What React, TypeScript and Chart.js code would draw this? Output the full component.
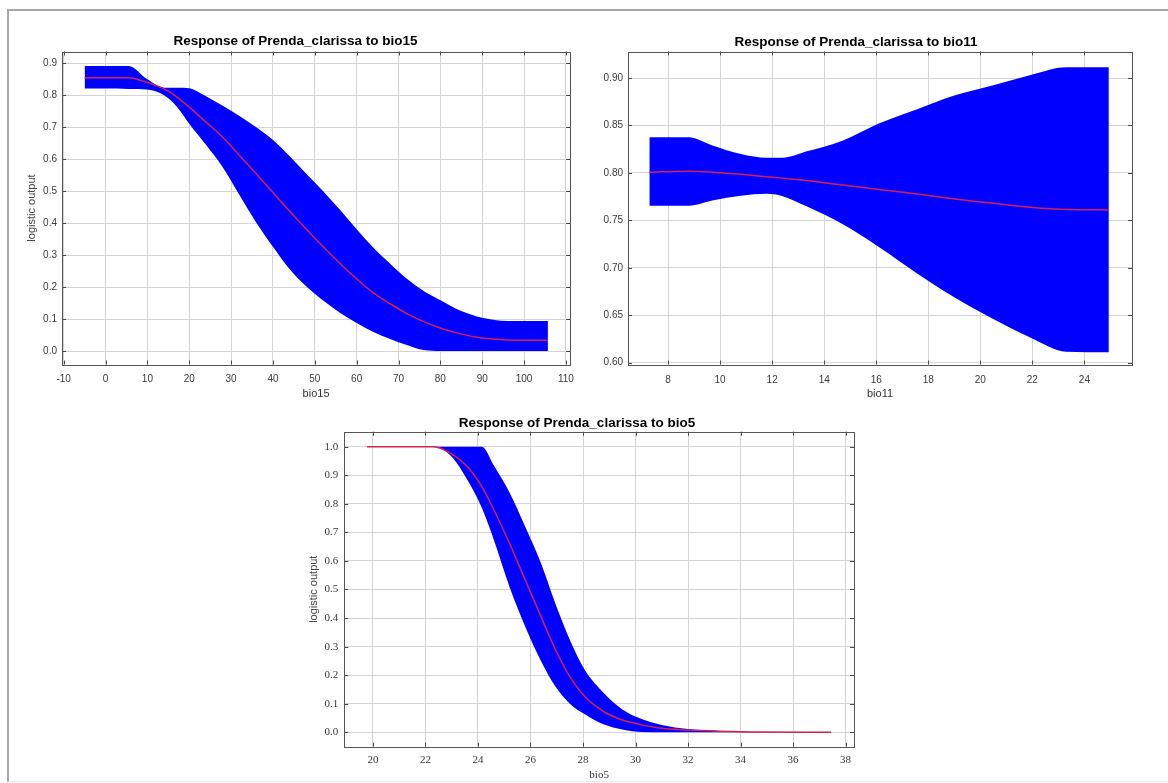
import React, { useEffect, useRef } from "react";
import { Chart, registerables } from "chart.js";

Chart.register(...registerables);

// ---------- Data: response of Prenda_clarissa to bio15 ----------
const BIO15_X = [-5, 0, 5.5, 10, 14, 17, 20, 24, 28, 32, 36, 40, 44, 48, 52, 56, 60, 64, 68, 72, 76, 80, 85, 90, 96, 100, 105.7];
const BIO15_UPPER = [0.892, 0.892, 0.892, 0.85, 0.824, 0.824, 0.822, 0.797, 0.767, 0.735, 0.7, 0.66, 0.609, 0.554, 0.5, 0.442, 0.381, 0.323, 0.273, 0.226, 0.188, 0.159, 0.125, 0.104, 0.094, 0.094, 0.094];
const BIO15_LOWER = [0.821, 0.821, 0.82, 0.818, 0.8, 0.765, 0.711, 0.645, 0.575, 0.488, 0.402, 0.326, 0.256, 0.202, 0.158, 0.12, 0.088, 0.06, 0.038, 0.019, 0.003, 0.0, 0.0, 0.0, 0.0, 0.0, 0.0];
const BIO15_MEAN = [0.855, 0.855, 0.855, 0.84, 0.82, 0.795, 0.763, 0.716, 0.669, 0.612, 0.555, 0.496, 0.437, 0.381, 0.326, 0.274, 0.226, 0.182, 0.148, 0.117, 0.092, 0.072, 0.053, 0.041, 0.035, 0.034, 0.034];
const BIO15_XTICKS = [-10, 0, 10, 20, 30, 40, 50, 60, 70, 80, 90, 100, 110];
const BIO15_YTICKS = [0, 0.1, 0.2, 0.3, 0.4, 0.5, 0.6, 0.7, 0.8, 0.9];

// ---------- Data: response to bio11 ----------
const BIO11_X = [7.28, 8.8, 9.7, 10.8, 11.8, 12.4, 13.3, 14.7, 16.1, 17.6, 19.0, 20.5, 21.9, 23.3, 24.94];
const BIO11_UPPER = [0.8376, 0.8376, 0.829, 0.82, 0.816, 0.816, 0.8225, 0.834, 0.852, 0.8675, 0.8816, 0.8925, 0.903, 0.9115, 0.9115];
const BIO11_LOWER = [0.7655, 0.7655, 0.771, 0.776, 0.778, 0.7755, 0.765, 0.746, 0.722, 0.6935, 0.669, 0.646, 0.6267, 0.6115, 0.611];
const BIO11_MEAN = [0.8007, 0.8018, 0.8008, 0.7985, 0.796, 0.7945, 0.792, 0.7873, 0.7825, 0.7778, 0.7726, 0.768, 0.7638, 0.7613, 0.761];
const BIO11_XTICKS = [8, 10, 12, 14, 16, 18, 20, 22, 24];
const BIO11_YTICKS = [0.6, 0.65, 0.7, 0.75, 0.8, 0.85, 0.9];

// ---------- Data: response to bio5 ----------
const BIO5_X = [19.78, 22.3, 23.0, 23.6, 24.15, 24.6, 25.2, 25.8, 26.4, 26.95, 27.5, 28.07, 28.8, 29.5, 30.26, 31.0, 32.0, 33.2, 34.7, 37.45];
const BIO5_UPPER = [1, 1, 1, 1, 1, 0.935, 0.84, 0.72, 0.592, 0.45, 0.323, 0.218, 0.137, 0.08, 0.0455, 0.026, 0.0117, 0.005, 0.001, 0];
const BIO5_LOWER = [1, 1, 0.965, 0.883, 0.785, 0.675, 0.51, 0.37, 0.25, 0.16, 0.1, 0.063, 0.027, 0.01, 0.001, 0, 0, 0, 0, 0];
const BIO5_MEAN = [1, 1, 0.975, 0.93, 0.86, 0.78, 0.662, 0.533, 0.405, 0.29, 0.195, 0.125, 0.072, 0.043, 0.026, 0.014, 0.008, 0.004, 0.001, 0];
const BIO5_XTICKS = [20, 22, 24, 26, 28, 30, 32, 34, 36, 38];
const BIO5_YTICKS = [0, 0.1, 0.2, 0.3, 0.4, 0.5, 0.6, 0.7, 0.8, 0.9, 1.0];

const BLUE = "#0000ff";
const RED = "#d42050";
const SANS = "'Liberation Sans', Arial, sans-serif";
const SERIF = "'Liberation Serif', 'Times New Roman', serif";

const boxPlugin = {
  id: "matlabBox",
  afterDraw(chart: any) {
    const { ctx, chartArea: a, scales } = chart;
    const L = 4;
    ctx.save();
    ctx.strokeStyle = "#4a4a4a";
    ctx.lineWidth = 1;
    ctx.beginPath();
    scales.x.ticks.forEach((t: any) => {
      const px = Math.round(scales.x.getPixelForValue(t.value)) + 0.5;
      ctx.moveTo(px, a.bottom);
      ctx.lineTo(px, a.bottom - L);
      ctx.moveTo(px, a.top);
      ctx.lineTo(px, a.top + L);
    });
    scales.y.ticks.forEach((t: any) => {
      const py = Math.round(scales.y.getPixelForValue(t.value)) + 0.5;
      ctx.moveTo(a.left, py);
      ctx.lineTo(a.left + L, py);
      ctx.moveTo(a.right, py);
      ctx.lineTo(a.right - L, py);
    });
    ctx.stroke();
    ctx.strokeStyle = "#555";
    ctx.strokeRect(Math.round(a.left) + 0.5, Math.round(a.top) + 0.5, Math.round(a.right - a.left), Math.round(a.bottom - a.top));
    ctx.restore();
  },
};

type PanelProps = {
  left: number; top: number; w: number; h: number;
  padRight: number; yAxisW: number; xAxisH: number;
  titleTop: number; titleBottom: number; title: string;
  xs: number[]; upper: number[]; lower: number[]; mean: number[];
  xMin: number; xMax: number; yMin: number; yMax: number;
  xTicks: number[]; yTicks: number[]; yDecimals: number;
  xLabel: string; yLabel: string | null;
  tickFont: string; tickSize: number; xTitleFont: string;
  xTickPad: number; yTickPad: number; xTitleBottom: number; yTitleTop: number;
};

function Panel(p: PanelProps) {
  const ref = useRef<HTMLCanvasElement>(null);
  useEffect(() => {
    const canvas = ref.current;
    if (!canvas) return;
    const pts = (ys: number[]) => p.xs.map((x, i) => ({ x, y: ys[i] }));
    const chart = new Chart(canvas, {
      type: "line",
      data: {
        datasets: [
          { label: "mean", data: pts(p.mean), borderColor: RED, borderWidth: 1.5, pointRadius: 0, fill: false, cubicInterpolationMode: "monotone" },
          { label: "upper", data: pts(p.upper), borderColor: BLUE, backgroundColor: BLUE, borderWidth: 0, pointRadius: 0, fill: "+1", cubicInterpolationMode: "monotone" },
          { label: "lower", data: pts(p.lower), borderColor: BLUE, backgroundColor: BLUE, borderWidth: 0, pointRadius: 0, fill: false, cubicInterpolationMode: "monotone" },
        ],
      } as any,
      options: {
        animation: false,
        responsive: false,
        maintainAspectRatio: false,
        events: [],
        layout: { padding: { left: 0, top: 0, bottom: 0, right: p.padRight } },
        plugins: {
          legend: { display: false },
          tooltip: { enabled: false },
          title: {
            display: true,
            text: p.title,
            color: "#000",
            font: { family: SANS, size: 13.5, weight: "bold", lineHeight: 1.2 },
            padding: { top: p.titleTop, bottom: p.titleBottom },
          },
        },
        scales: {
          x: {
            type: "linear",
            min: p.xMin,
            max: p.xMax,
            afterBuildTicks: (s: any) => { s.ticks = p.xTicks.map((v) => ({ value: v })); },
            afterFit: (s: any) => { s.height = p.xAxisH; },
            ticks: {
              autoSkip: false, maxRotation: 0, minRotation: 0,
              padding: p.xTickPad, color: "#3a3a3a",
              font: { family: p.tickFont, size: p.tickSize, lineHeight: 1.2 },
              callback: (v: any) => String(v),
            },
            grid: { color: "#d4d4d4", lineWidth: 1, drawTicks: false },
            border: { display: false },
            title: {
              display: true, text: p.xLabel, color: "#333",
              font: { family: p.xTitleFont, size: 11, lineHeight: 1.2 },
              padding: { top: 0, bottom: p.xTitleBottom },
            },
          },
          y: {
            type: "linear",
            min: p.yMin,
            max: p.yMax,
            afterBuildTicks: (s: any) => { s.ticks = p.yTicks.map((v) => ({ value: v })); },
            afterFit: (s: any) => { s.width = p.yAxisW; },
            ticks: {
              autoSkip: false,
              padding: p.yTickPad, color: "#3a3a3a",
              font: { family: p.tickFont, size: p.tickSize, lineHeight: 1.2 },
              callback: (v: any) => Number(v).toFixed(p.yDecimals),
            },
            grid: { color: "#d4d4d4", lineWidth: 1, drawTicks: false },
            border: { display: false },
            title: {
              display: p.yLabel !== null, text: p.yLabel || "", color: "#444",
              font: { family: SANS, size: 11, lineHeight: 1.2 },
              padding: { top: p.yTitleTop, bottom: 0 },
            },
          },
        },
      } as any,
      plugins: [boxPlugin],
    });
    return () => chart.destroy();
  }, []);
  return (
    <canvas
      ref={ref}
      width={p.w}
      height={p.h}
      style={{ position: "absolute", left: p.left, top: p.top, width: p.w, height: p.h }}
    />
  );
}

export default function App() {
  return (
    <div style={{ position: "fixed", left: 0, top: 0, width: 1168, height: 783, background: "#fff", overflow: "hidden" }}>
      <div style={{ position: "absolute", left: 7, top: 9, width: 1180, height: 770, borderTop: "2px solid #a8a8a8", borderLeft: "2px solid #a8a8a8", borderBottom: "1px solid #ececec" }} />
      <Panel
        left={20} top={25} w={563} h={376} padRight={12} yAxisW={42} xAxisH={36.5}
        titleTop={8.6} titleBottom={1.7} title="Response of Prenda_clarissa to bio15"
        xs={BIO15_X} upper={BIO15_UPPER} lower={BIO15_LOWER} mean={BIO15_MEAN}
        xMin={-10.4} xMax={111} yMin={-0.042} yMax={0.937}
        xTicks={BIO15_XTICKS} yTicks={BIO15_YTICKS} yDecimals={1}
        xLabel="bio15" yLabel="logistic output"
        tickFont={SANS} tickSize={10} xTitleFont={SANS}
        xTickPad={9} yTickPad={5} xTitleBottom={0.4} yTitleTop={4.9}
      />
      <Panel
        left={580} top={25} w={568} h={376} padRight={16} yAxisW={48} xAxisH={36.5}
        titleTop={9.6} titleBottom={0.7} title="Response of Prenda_clarissa to bio11"
        xs={BIO11_X} upper={BIO11_UPPER} lower={BIO11_LOWER} mean={BIO11_MEAN}
        xMin={6.46} xMax={25.83} yMin={0.598} yMax={0.928}
        xTicks={BIO11_XTICKS} yTicks={BIO11_YTICKS} yDecimals={2}
        xLabel="bio11" yLabel={null}
        tickFont={SANS} tickSize={10} xTitleFont={SANS}
        xTickPad={9.5} yTickPad={5} xTitleBottom={0.1} yTitleTop={0}
      />
      <Panel
        left={300} top={405} w={570} h={377} padRight={16} yAxisW={44.3} xAxisH={35.3}
        titleTop={10.2} titleBottom={0.3} title="Response of Prenda_clarissa to bio5"
        xs={BIO5_X} upper={BIO5_UPPER} lower={BIO5_LOWER} mean={BIO5_MEAN}
        xMin={18.91} xMax={38.32} yMin={-0.0504} yMax={1.0525}
        xTicks={BIO5_XTICKS} yTicks={BIO5_YTICKS} yDecimals={1}
        xLabel="bio5" yLabel="logistic output"
        tickFont={SERIF} tickSize={11} xTitleFont={SERIF}
        xTickPad={7.2} yTickPad={6} xTitleBottom={0.4} yTitleTop={7.8}
      />
    </div>
  );
}
